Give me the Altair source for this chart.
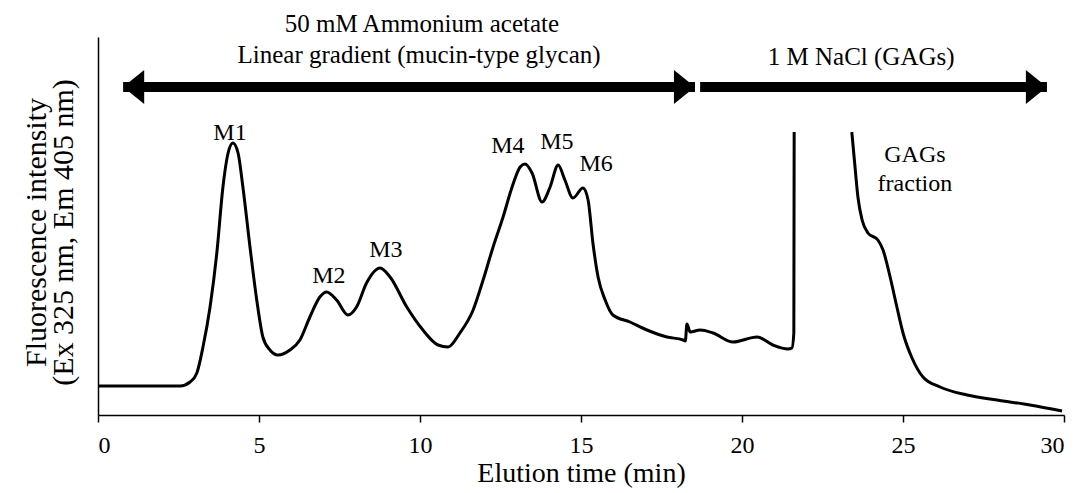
import altair as alt
import pandas as pd

FONT = "Liberation Serif"

# ---- chromatogram, part 1 (mucin-type glycan region, 0 - 21.6 min) ----
time_1 = [0.0, 1.61, 2.55, 2.86, 3.07, 3.26, 3.48, 3.69, 3.88, 4.04, 4.19, 4.35, 4.50, 4.72,
          4.93, 5.12, 5.34, 5.59, 5.96, 6.27, 6.58, 6.89, 7.10, 7.41, 7.76, 8.03, 8.34, 8.76,
          9.07, 9.59, 10.09, 10.56, 10.87, 11.24, 11.65, 11.96, 12.27, 12.58, 12.86, 13.11,
          13.26, 13.48, 13.79, 14.04, 14.29, 14.50, 14.75, 15.06, 15.22, 15.37, 15.53, 15.75,
          15.99, 16.52, 17.05, 17.67, 18.17, 18.24, 18.29, 18.39, 18.70, 19.10, 19.72, 20.47,
          20.96, 21.43, 21.55, 21.61, 21.62]
signal_1 = [29, 29, 29, 33, 42, 68, 108, 162, 228, 262, 272, 262, 228, 168,
            115, 78, 65, 60, 65, 75, 98, 118, 123, 115, 100, 108, 132, 147,
            138, 108, 85, 70, 68, 82, 105, 135, 168, 198, 228, 248,
            251, 242, 213, 228, 250, 235, 217, 227, 215, 172, 138, 115,
            100, 93, 85, 78, 75, 74, 91, 83, 85, 82, 73, 78,
            70, 66, 67, 82, 283]

# ---- chromatogram, part 2 (GAGs fraction, 23.4 - 30 min) ----
time_2 = [23.41, 23.51, 23.60, 23.73, 23.91, 24.22, 24.38, 24.60, 24.81, 25.00, 25.28,
          25.62, 26.15, 26.99, 27.92, 28.94, 29.94]
signal_2 = [283, 248, 218, 195, 182, 175, 165, 138, 108, 82, 57,
            38, 28, 20, 15, 10, 4]

# ---- peak labels ----
label_text = ["M1", "M2", "M3", "M4", "M5", "M6", "GAGs", "fraction"]
label_time = [4.10, 7.17, 8.94, 12.73, 14.25, 15.47, 25.37, 25.37]
label_signal = [275, 132, 158, 262, 266, 244, 253, 224]

# ---- top annotations ----
top_text = ["50 mM Ammonium acetate", "Linear gradient (mucin-type glycan)", "1 M NaCl (GAGs)"]
top_time = [10.06, 9.97, 23.70]
top_signal = [383, 352, 350]

# ---- arrows (start, end, level) ----
arrow_start = [0.78, 18.70]
arrow_end = [18.54, 29.47]
arrow_level = [328, 328]
head_time = [0.78, 18.54, 29.47]
head_dir = ["left", "right", "right"]

line_df = pd.DataFrame({
    "t": time_1 + time_2,
    "v": signal_1 + signal_2,
    "seg": ["a"] * len(time_1) + ["b"] * len(time_2),
})
label_df = pd.DataFrame({"t": label_time, "v": label_signal, "txt": label_text})
top_df = pd.DataFrame({"t": top_time, "v": top_signal, "txt": top_text})
shaft_df = pd.DataFrame({"t": arrow_start, "t2": arrow_end, "v": arrow_level})
head_df = pd.DataFrame({"t": head_time, "v": [arrow_level[0]] * 3, "dir": head_dir})

x_scale = alt.Scale(domain=[0, 30], nice=False)
y_scale = alt.Scale(domain=[0, 378], nice=False)

x_axis = alt.Axis(
    values=[0, 5, 10, 15, 20, 25, 30], grid=False, format="d",
    domainColor="black", domainWidth=1.5, tickColor="black", tickWidth=1.5, tickSize=7,
    labelFont=FONT, labelFontSize=24, labelColor="black", labelBaseline="alphabetic",
    labelPadding=30, labelFontWeight="normal",
    title="Elution time (min)", titleFont=FONT, titleFontSize=28, titleFontWeight="normal",
    titleColor="black", titleBaseline="alphabetic", titleY=66,
)
y_axis = alt.Axis(
    grid=False, ticks=False, labels=False, domainColor="black", domainWidth=1.5,
    title=["Fluorescence intensity", "(Ex 325 nm, Em 405 nm)"],
    titleFont=FONT, titleFontSize=30, titleFontWeight="normal", titleColor="black",
    titleLineHeight=27, titleBaseline="middle", titleX=-62, titleY=195, titleAngle=270,
)

line = alt.Chart(line_df).mark_line(color="black", strokeWidth=3, interpolate="monotone").encode(
    x=alt.X("t:Q", scale=x_scale, axis=x_axis),
    y=alt.Y("v:Q", scale=y_scale, axis=y_axis),
    detail="seg:N",
)

shafts = alt.Chart(shaft_df).mark_rule(color="black", strokeWidth=10, strokeCap="butt").encode(
    x="t:Q", x2="t2:Q", y="v:Q",
)

right_heads = alt.Chart(head_df).transform_filter(alt.datum.dir == "right").mark_point(
    shape="M-1.24,-1L0,0L-1.24,1Z", filled=True, color="black", opacity=1, size=1156, strokeWidth=0,
).encode(x="t:Q", y="v:Q")

left_heads = alt.Chart(head_df).transform_filter(alt.datum.dir == "left").mark_point(
    shape="M1.24,-1L0,0L1.24,1Z", filled=True, color="black", opacity=1, size=1156, strokeWidth=0,
).encode(x="t:Q", y="v:Q")

labels = alt.Chart(label_df).mark_text(
    font=FONT, fontSize=24, color="black", align="center", baseline="alphabetic",
).encode(x="t:Q", y="v:Q", text="txt:N")

tops = alt.Chart(top_df).mark_text(
    font=FONT, fontSize=25, color="black", align="center", baseline="alphabetic",
).encode(x="t:Q", y="v:Q", text="txt:N")

chart = alt.layer(line, shafts, right_heads, left_heads, labels, tops).properties(
    width=966, height=378,
    autosize=alt.AutoSizeParams(type="none"),
    padding={"left": 90, "top": 29, "right": 11, "bottom": 77},
    background="white",
).configure_view(stroke=None)

chart.save("out.html", embed_options={"renderer": "svg", "actions": False})
